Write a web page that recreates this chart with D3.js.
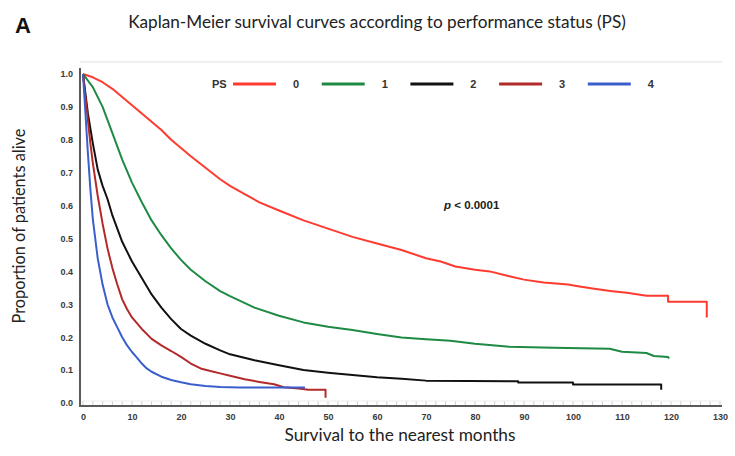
<!DOCTYPE html>
<html>
<head>
<meta charset="utf-8">
<script src="https://cdn.jsdelivr.net/npm/d3@7"></script>
<style>
  html, body { margin: 0; padding: 0; background: #fff; }
  svg { display: block; }
</style>
</head>
<body>
<svg id="chart" width="735" height="456"></svg>
<script>
// ---------- data (months, proportion alive) ----------
const seriesNames = ["0", "1", "2", "3", "4"];
const seriesColors = ["#ff3b30", "#1e8a44", "#111111", "#b22a2a", "#3a5fcd"];

const ps0 = [[0,1.0],[2,0.99],[4,0.975],[6,0.955],[8,0.93],[10,0.905],[12,0.88],[14,0.855],[16,0.83],[18,0.80],[20,0.775],[22,0.75],[25,0.715],[28,0.68],[30,0.66],[33,0.635],[36,0.61],[40,0.585],[45,0.555],[50,0.53],[55,0.505],[60,0.485],[65,0.465],[70,0.44],[73,0.43],[76,0.415],[80,0.405],[83,0.40],[87,0.385],[90,0.375],[94,0.366],[99,0.36],[101,0.355],[104,0.348],[108,0.34],[111,0.335],[115,0.326],[119.4,0.326],[119.4,0.308],[127.3,0.308],[127.3,0.26]];
const ps1 = [[0,1.0],[2,0.96],[4,0.90],[6,0.82],[8,0.74],[10,0.67],[12,0.61],[14,0.555],[16,0.51],[18,0.47],[20,0.435],[22,0.405],[25,0.37],[28,0.34],[30,0.325],[35,0.29],[40,0.265],[45,0.245],[50,0.232],[55,0.222],[60,0.21],[65,0.199],[70,0.194],[75,0.189],[80,0.18],[87,0.171],[96,0.168],[107.5,0.165],[110,0.156],[115,0.152],[116.5,0.143],[119.4,0.14],[119.6,0.135]];
const ps2 = [[0,1.0],[1,0.88],[2,0.79],[3,0.71],[4,0.66],[5,0.62],[6,0.57],[7,0.53],[8,0.49],[9,0.46],[10,0.43],[12,0.38],[14,0.33],[16,0.29],[18,0.255],[20,0.225],[22,0.205],[25,0.18],[28,0.16],[30,0.148],[35,0.13],[40,0.115],[45,0.10],[50,0.092],[55,0.085],[60,0.078],[65,0.074],[70,0.068],[88.8,0.066],[88.8,0.062],[100,0.062],[100,0.056],[118,0.056],[118,0.04]];
const ps3 = [[0,1.0],[0.5,0.93],[1,0.86],[1.5,0.79],[2,0.73],[3,0.63],[4,0.545],[5,0.47],[6,0.41],[7,0.36],[8,0.315],[9,0.285],[10,0.26],[12,0.225],[14,0.195],[16,0.175],[18,0.158],[20,0.14],[22,0.12],[24,0.105],[26,0.097],[28,0.09],[30,0.083],[33,0.072],[36,0.064],[39,0.057],[41,0.048],[44,0.044],[46,0.04],[49.5,0.04],[49.5,0.016]];
const ps4 = [[0,1.0],[0.5,0.88],[1,0.76],[1.5,0.65],[2,0.56],[3,0.44],[4,0.36],[5,0.30],[6,0.26],[7,0.23],[8,0.20],[9,0.175],[10,0.155],[11,0.138],[12,0.12],[13,0.105],[14,0.095],[16,0.08],[18,0.07],[20,0.063],[22,0.057],[25,0.052],[28,0.049],[32,0.047],[45.3,0.047]];
const seriesData = [ps0, ps1, ps2, ps3, ps4];

const xTicks = [0,10,20,30,40,50,60,70,80,90,100,110,120,130];
const yTicks = [0,0.1,0.2,0.3,0.4,0.5,0.6,0.7,0.8,0.9,1.0];

const titleText = "Kaplan-Meier survival curves according to performance status (PS)";
const xLabelText = "Survival to the nearest months";
const yLabelText = "Proportion of patients alive";
const panelLetter = "A";
const legendTitle = "PS";
const pText = "< 0.0001";

// ---------- layout ----------
const svg = d3.select("#chart");
const x = d3.scaleLinear().domain([0, 130]).range([83, 720]);
const y = d3.scaleLinear().domain([0, 1]).range([403, 74]);
const fontMain = "Lato, 'Open Sans', 'Liberation Sans', sans-serif";

function fitText(sel, target) {
  const node = sel.node();
  let fs = parseFloat(sel.attr("font-size"));
  const w = node.getComputedTextLength();
  if (w > 0) sel.attr("font-size", (fs * target / w).toFixed(2));
}

// faint top frame line
svg.append("line")
  .attr("x1", 80).attr("x2", 722).attr("y1", 62).attr("y2", 62)
  .attr("stroke", "#f0f0f0").attr("stroke-width", 2);

// x minor ticks (inside, upward)
const minor = d3.range(0, 131, 2);
svg.append("g").selectAll("line").data(minor).join("line")
  .attr("x1", d => x(d)).attr("x2", d => x(d))
  .attr("y1", 406).attr("y2", 401)
  .attr("stroke", "#cfcfcf").attr("stroke-width", 1);
svg.append("line")
  .attr("x1", 80).attr("x2", 722).attr("y1", 401).attr("y2", 401)
  .attr("stroke", "#ececec").attr("stroke-width", 1);

// x axis
const xAxis = d3.axisBottom(x).tickValues(xTicks).tickSize(0).tickPadding(8).tickFormat(d3.format("d"));
const gx = svg.append("g").attr("transform", "translate(0,406)").call(xAxis);
gx.select(".domain").remove();
gx.selectAll("text").attr("font-family", "'Liberation Sans', Arial, sans-serif")
  .attr("font-size", 9).attr("font-weight", "bold").attr("fill", "#3a3a3a");

// y axis
const yAxis = d3.axisLeft(y).tickValues(yTicks).tickSize(0).tickPadding(7).tickFormat(d3.format(".1f"));
const gy = svg.append("g").attr("transform", "translate(80,0)").call(yAxis);
gy.select(".domain").remove();
gy.selectAll("text").attr("font-family", "'Liberation Sans', Arial, sans-serif")
  .attr("font-size", 9).attr("font-weight", "bold").attr("fill", "#3a3a3a");

// axis lines
svg.append("line").attr("x1", 80).attr("x2", 80).attr("y1", 68).attr("y2", 407)
  .attr("stroke", "#5a5a5a").attr("stroke-width", 2);
svg.append("line").attr("x1", 79).attr("x2", 722).attr("y1", 406).attr("y2", 406)
  .attr("stroke", "#5a5a5a").attr("stroke-width", 2);

// curves
const line = d3.line().x(d => x(d[0])).y(d => y(d[1])).curve(d3.curveLinear);
const order = [0, 1, 2, 3, 4];
svg.append("g").selectAll("path").data(order).join("path")
  .attr("d", i => line(seriesData[i]))
  .attr("fill", "none")
  .attr("stroke", i => seriesColors[i])
  .attr("stroke-width", 2)
  .attr("stroke-linejoin", "round");

// legend
const leg = svg.append("g");
leg.append("text").attr("x", 212).attr("y", 88)
  .attr("font-family", "'Liberation Sans', Arial, sans-serif").attr("font-size", 11)
  .attr("font-weight", "bold").attr("fill", "#333").text(legendTitle);
seriesNames.forEach((name, i) => {
  const x0 = 233 + i * 88.7;
  leg.append("line").attr("x1", x0).attr("x2", x0 + 43).attr("y1", 84).attr("y2", 84)
    .attr("stroke", seriesColors[i]).attr("stroke-width", 3.2);
  leg.append("text").attr("x", x0 + 63).attr("y", 88).attr("text-anchor", "middle")
    .attr("font-family", "'Liberation Sans', Arial, sans-serif").attr("font-size", 11)
    .attr("font-weight", "bold").attr("fill", "#333").text(name);
});

// p-value
const pt = svg.append("text").attr("x", 444).attr("y", 209)
  .attr("font-family", "'Liberation Sans', Arial, sans-serif").attr("font-size", 11.5)
  .attr("font-weight", "bold").attr("fill", "#222");
pt.append("tspan").attr("font-style", "italic").text("p");
pt.append("tspan").text(" " + pText);

// title
const t = svg.append("text").attr("x", 377).attr("y", 28).attr("text-anchor", "middle")
  .attr("font-family", fontMain).attr("font-size", 16).attr("fill", "#222").text(titleText);
fitText(t, 498);

// panel letter
svg.append("text").attr("x", 15).attr("y", 33)
  .attr("font-family", "'Liberation Sans', Arial, sans-serif").attr("font-size", 22)
  .attr("font-weight", "bold").attr("fill", "#111").text(panelLetter);

// x label
const xl = svg.append("text").attr("x", 400).attr("y", 441).attr("text-anchor", "middle")
  .attr("font-family", fontMain).attr("font-size", 16).attr("fill", "#222").text(xLabelText);
fitText(xl, 231);

// y label
const yl = svg.append("text").attr("transform", "translate(25,226) rotate(-90)")
  .attr("text-anchor", "middle")
  .attr("font-family", fontMain).attr("font-size", 16).attr("fill", "#222").text(yLabelText);
fitText(yl, 195);
</script>
</body>
</html>
